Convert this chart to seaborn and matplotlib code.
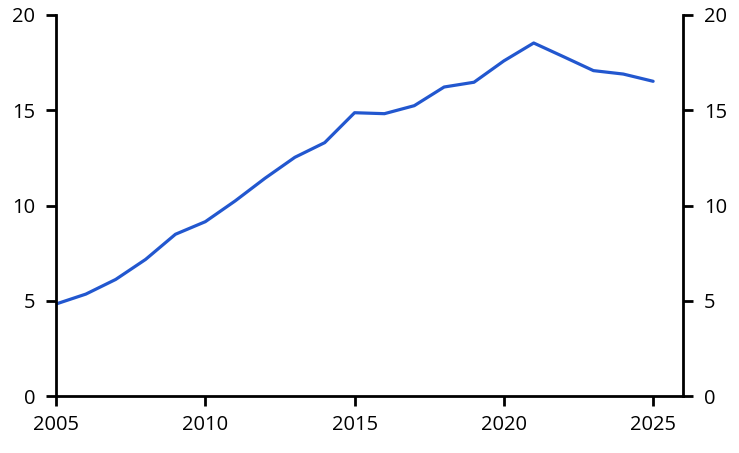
import numpy as np
import pandas as pd
import matplotlib
matplotlib.use("Agg")
import matplotlib.pyplot as plt
import seaborn as sns

# Values
years = list(range(2005, 2026))
values = [4.83, 5.35, 6.12, 7.17, 8.49, 9.15, 10.24, 11.43, 12.53, 13.30,
          14.87, 14.82, 15.24, 16.22, 16.47, 17.59, 18.53, 17.81, 17.08, 16.90, 16.52]
x_ticks = [2005, 2010, 2015, 2020, 2025]
y_ticks = [0, 5, 10, 15, 20]

sns.set_style("ticks")
plt.rcParams['font.family'] = ['Open Sans', 'DejaVu Sans']

df = pd.DataFrame({"year": years, "value": values})

fig = plt.figure(figsize=(7.39, 4.53), dpi=100)
ax = fig.add_axes([0.0758, 0.1258, 0.8484, 0.8411])
sns.lineplot(data=df, x="year", y="value", ax=ax, color="#2257CF", linewidth=2.3)

ax.set_xlim(2005, 2026)
ax.set_ylim(0, 20)
ax.set_xticks(x_ticks)
ax.set_yticks(y_ticks)
ax.set_xlabel("")
ax.set_ylabel("")

ax2 = ax.twinx()
ax2.set_ylim(0, 20)
ax2.set_yticks(y_ticks)

for a in (ax, ax2):
    a.spines["top"].set_visible(False)
    for s in a.spines.values():
        s.set_linewidth(2)
        s.set_color("black")
    a.tick_params(axis="both", direction="out", length=7, width=2,
                  labelsize=14.5, colors="black")
    a.tick_params(axis="y", pad=8)
    a.tick_params(axis="x", pad=7)
ax.spines["right"].set_visible(False)
ax2.spines["left"].set_visible(False)
ax2.spines["bottom"].set_visible(False)

fig.savefig("out.png", dpi=100)
